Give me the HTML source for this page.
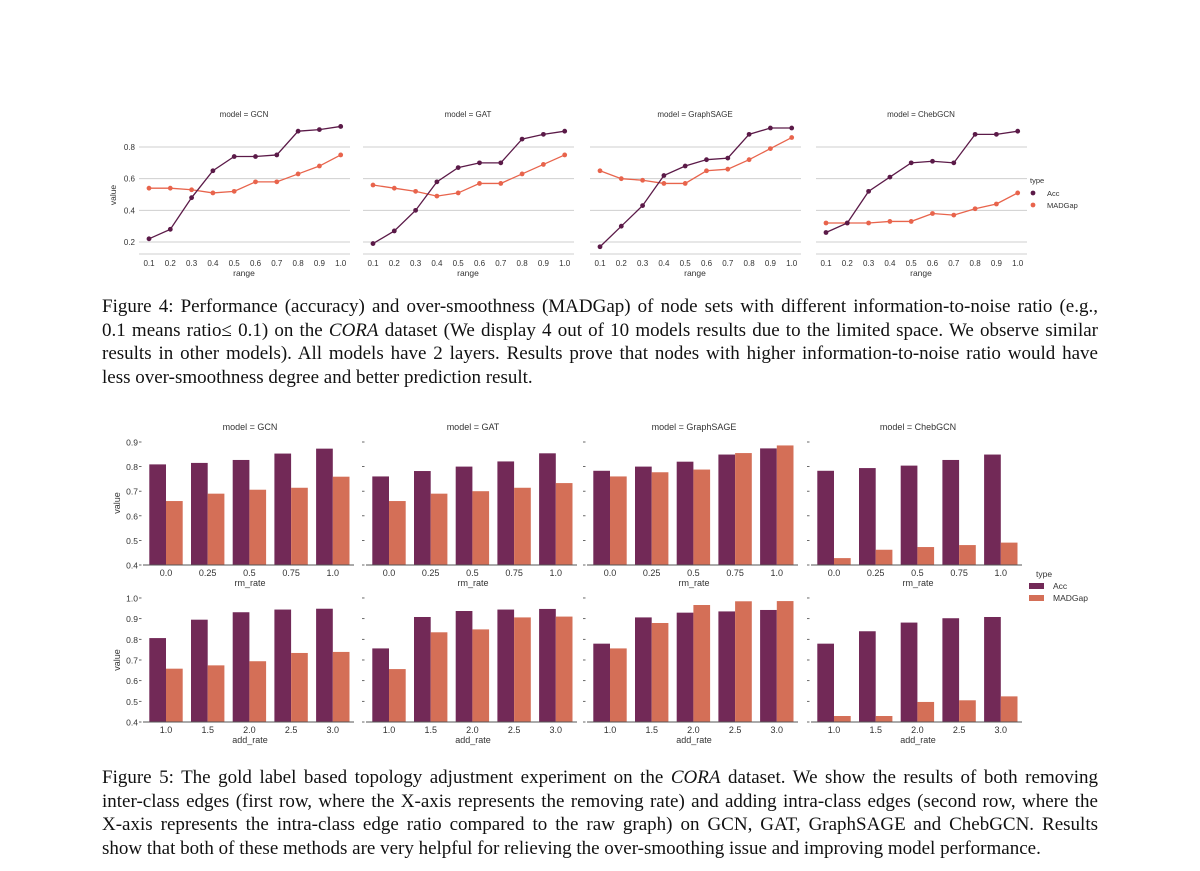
<!DOCTYPE html>
<html><head><meta charset="utf-8"><style>
body{margin:0;background:#fff;width:1200px;height:871px;overflow:hidden;position:relative;font-family:"Liberation Sans",sans-serif}
svg{position:absolute;left:0;top:0}
.cap{position:absolute;left:102px;width:996px;font-family:"Liberation Serif",serif;font-size:19px;line-height:23.5px;color:#111;white-space:nowrap}
.cap div{text-align:justify;text-align-last:justify;white-space:normal;height:23.5px}
.cap div.last{text-align-last:left}
</style></head><body>
<svg id="chart" width="1200" height="871"></svg>
<div class="cap" style="top:295px">
<div>Figure 4: Performance (accuracy) and over-smoothness (MADGap) of node sets with different information-to-noise ratio (e.g.,</div>
<div>0.1 means ratio≤ 0.1) on the <i>CORA</i> dataset (We display 4 out of 10 models results due to the limited space. We observe similar</div>
<div>results in other models). All models have 2 layers. Results prove that nodes with higher information-to-noise ratio would have</div>
<div class="last">less over-smoothness degree and better prediction result.</div>
</div>
<div class="cap" style="top:766px">
<div>Figure 5: The gold label based topology adjustment experiment on the <i>CORA</i> dataset. We show the results of both removing</div>
<div>inter-class edges (first row, where the X-axis represents the removing rate) and adding intra-class edges (second row, where the</div>
<div>X-axis represents the intra-class edge ratio compared to the raw graph) on GCN, GAT, GraphSAGE and ChebGCN. Results</div>
<div class="last">show that both of these methods are very helpful for relieving the over-smoothing issue and improving model performance.</div>
</div>
<script>
const models = ["GCN","GAT","GraphSAGE","ChebGCN"];
const rangeLabels = ["0.1","0.2","0.3","0.4","0.5","0.6","0.7","0.8","0.9","1.0"];
const f4Ticks = [0.2,0.4,0.6,0.8];
const f4Acc = [
 [.22,.28,.48,.65,.74,.74,.75,.90,.91,.93],
 [.19,.27,.40,.58,.67,.70,.70,.85,.88,.90],
 [.17,.30,.43,.62,.68,.72,.73,.88,.92,.92],
 [.26,.32,.52,.61,.70,.71,.70,.88,.88,.90]];
const f4Mad = [
 [.54,.54,.53,.51,.52,.58,.58,.63,.68,.75],
 [.56,.54,.52,.49,.51,.57,.57,.63,.69,.75],
 [.65,.60,.59,.57,.57,.65,.66,.72,.79,.86],
 [.32,.32,.32,.33,.33,.38,.37,.41,.44,.51]];
const rmLabels = ["0.0","0.25","0.5","0.75","1.0"];
const addLabels = ["1.0","1.5","2.0","2.5","3.0"];
const rmAcc = [[.809,.815,.827,.853,.873],[.76,.782,.80,.821,.854],[.783,.80,.82,.849,.874],[.783,.794,.804,.827,.849]];
const rmMad = [[.66,.69,.706,.714,.759],[.66,.69,.70,.714,.733],[.76,.777,.788,.855,.886],[.428,.462,.473,.481,.491]];
const addAcc = [[.806,.895,.931,.944,.948],[.756,.908,.937,.944,.947],[.779,.906,.929,.935,.942],[.779,.839,.881,.902,.908]];
const addMad = [[.658,.674,.694,.734,.739],[.656,.834,.848,.906,.91],[.756,.879,.966,.984,.985],[.429,.429,.497,.505,.524]];
const rmTicks = [0.4,0.5,0.6,0.7,0.8,0.9];
const addTicks = [0.4,0.5,0.6,0.7,0.8,0.9,1.0];

const NS="http://www.w3.org/2000/svg";
const svg=document.getElementById('chart');
function mk(tag,attrs,parent){const e=document.createElementNS(NS,tag);for(const k in attrs)e.setAttribute(k,attrs[k]);(parent||svg).appendChild(e);return e;}
function txt(x,y,s,size,anchor,parent,fill){const t=mk('text',{x:x,y:y,'font-size':size,'text-anchor':anchor||'middle',fill:fill||'#333','font-family':'"Liberation Sans",sans-serif'},parent);t.textContent=s;return t;}
const ACC4="#5b1a48", MAD4="#e8644c", ACC5="#722957", MAD5="#d46f57";

// Figure 4
const f4x0=[139,363,590,816];
function f4Y(v){return 242-(v-0.2)*158.3;}
models.forEach((m,p)=>{
  const g=mk('g',{});
  
  
  const x0=f4x0[p];
  const fx=i=>x0+10+i*21.3;
  f4Ticks.forEach(t=>{const l=mk('line',{x1:x0,x2:x0+211,y1:f4Y(t),y2:f4Y(t),stroke:'#cfcfcf','stroke-width':1},g);
    
    if(p===0){const tl=txt(x0-4,f4Y(t)+3,t.toFixed(1),8,'end',g);}});
  const base=mk('line',{x1:x0,x2:x0+211,y1:254,y2:254,stroke:'#cfcfcf'},g);
  
  rangeLabels.forEach((s,i)=>{const t=txt(fx(i),266,s,8,'middle',g);});
  const xt=txt(x0+105,276,'range',8.5,'middle',g);
  const tt=txt(x0+105,117,'model = '+m,8,'middle',g);
  [[f4Mad[p],MAD4,'madgap'],[f4Acc[p],ACC4,'acc']].forEach(([arr,c,nm])=>{
    const pl=mk('polyline',{points:arr.map((v,i)=>fx(i)+','+f4Y(v)).join(' '),fill:'none',stroke:c,'stroke-width':1.3},g);
    
    arr.forEach((v,i)=>{const d=mk('circle',{cx:fx(i),cy:f4Y(v),r:2.4,fill:c},g);
      });
  });
});
const yl4=txt(0,0,'value',8.5,'middle');yl4.setAttribute('transform','translate(116,195) rotate(-90)');

const lg4=mk('g',{});
txt(1030,183,'type',7.5,'start',lg4);
mk('circle',{cx:1033,cy:193,r:2.4,fill:ACC4},lg4);txt(1047,196,'Acc',7.5,'start',lg4);
mk('circle',{cx:1033,cy:205,r:2.4,fill:MAD4},lg4);txt(1047,208,'MADGap',7.5,'start',lg4);

// Figure 5
const f5x0=[143,366,587,811];
function drawBarRow(accA,madA,labels,ticks,yBase,pxPerUnit,xTitle,rowName,showTitle){
  const Y=v=>yBase-(v-0.4)*pxPerUnit;
  models.forEach((m,p)=>{
    const g=mk('g',{});
    
    
    const x0=f5x0[p];
    const cx=k=>x0+23+k*41.7;
    ticks.forEach(t=>{
      const tk=mk('line',{x1:x0-4,x2:x0-1.5,y1:Y(t),y2:Y(t),stroke:'#444','stroke-width':0.8},g);
      
      if(p===0){const tl=txt(x0-5,Y(t)+3.5,t.toFixed(1),8.5,'end',g);}
    });
    accA[p].forEach((v,k)=>{
      const b=mk('rect',{x:cx(k)-16.7,y:Y(v),width:16.7,height:yBase-Y(v),fill:ACC5},g);
      
      const b2=mk('rect',{x:cx(k),y:Y(madA[p][k]),width:16.7,height:yBase-Y(madA[p][k]),fill:MAD5},g);
      
      const tl=txt(cx(k),yBase+11,labels[k],9,'middle',g);
    });
    const ax=mk('line',{x1:x0,x2:x0+211,y1:yBase,y2:yBase,stroke:'#555','stroke-width':1},g);
    
    const xt=txt(x0+107,yBase+21,xTitle,9,'middle',g);
    if(showTitle){const tt=txt(x0+107,430,'model = '+m,9,'middle',g);}
  });
  const yl=txt(0,0,'value',9,'middle');yl.setAttribute('transform','translate('+120+','+(yBase-62)+') rotate(-90)');
  
}
drawBarRow(rmAcc,rmMad,rmLabels,rmTicks,565,246,'rm_rate','row1',true);
drawBarRow(addAcc,addMad,addLabels,addTicks,722,206.7,'add_rate','row2',false);
const lg5=mk('g',{});
txt(1036,577,'type',8.5,'start',lg5);
mk('rect',{x:1029,y:583,width:15,height:6,fill:ACC5},lg5);txt(1053,589,'Acc',8.5,'start',lg5);
mk('rect',{x:1029,y:595,width:15,height:6,fill:MAD5},lg5);txt(1053,601,'MADGap',8.5,'start',lg5);
</script>
</body></html>
